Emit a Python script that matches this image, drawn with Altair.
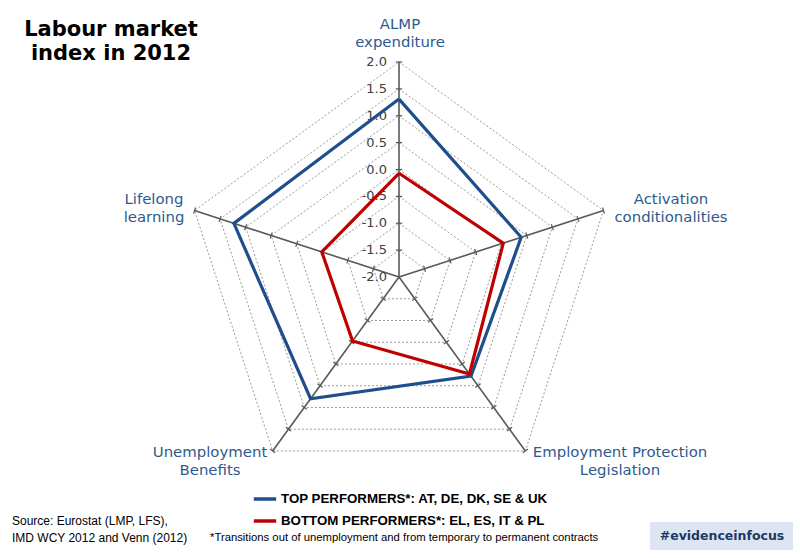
import math
import altair as alt
import pandas as pd

# ---- data ----
categories = ["ALMP expenditure", "Activation conditionalities",
              "Employment Protection Legislation", "Unemployment Benefits",
              "Lifelong learning"]
cat_labels = ["ALMP\nexpenditure", "Activation\nconditionalities",
              "Employment Protection\nLegislation", "Unemployment\nBenefits",
              "Lifelong\nlearning"]
series_names = ["TOP PERFORMERS*: AT, DE, DK, SE & UK",
                "BOTTOM PERFORMERS*: EL, ES, IT & PL"]
top_values = [1.31, 0.39, 0.28, 0.80, 1.23]
bottom_values = [-0.07, 0.04, 0.23, -0.53, -0.49]
tick_values = [-2.0, -1.5, -1.0, -0.5, 0.0, 0.5, 1.0, 1.5, 2.0]
tick_labels = ["-2.0", "-1.5", "-1.0", "-0.5", "0.0", "0.5", "1.0", "1.5", "2.0"]

# ---- geometry helpers (layout only) ----
RMIN = -2.0
PX = 53.75          # pixels per unit
CX, CY = 399, 277   # centre in pixels
W, H = 800, 558
angles = [90 - 72 * i for i in range(len(categories))]

xs = alt.Scale(domain=[-CX / PX, (W - CX) / PX], range=[0, W], zero=False, nice=False)
ys = alt.Scale(domain=[-(H - CY) / PX, CY / PX], range=[H, 0], zero=False, nice=False)

BLUE = "#1f4e8c"
RED = "#c00000"
LABEL = "#2e5a8e"
FONT = "DejaVu Sans"

# series table
rows = []
for name, vals in zip(series_names, [top_values, bottom_values]):
    for k in range(len(categories) + 1):
        i = k % len(categories)
        rows.append({"series": name, "category": categories[i], "value": vals[i],
                     "angle": angles[i], "ord": k})
series_df = pd.DataFrame(rows)

# grid rings (one per tick above the centre)
ring_rows = []
for t in tick_values[1:]:
    for k in range(len(categories) + 1):
        ring_rows.append({"level": t, "angle": angles[k % len(categories)], "ord": k})
ring_df = pd.DataFrame(ring_rows)

spoke_df = pd.DataFrame({"category": categories, "angle": angles})

tick_rows = []
for a in angles:
    for t in tick_values[1:]:
        tick_rows.append({"angle": a, "level": t})
tick_df = pd.DataFrame(tick_rows)

label_df = pd.DataFrame({"value": tick_values, "label": tick_labels})

rad = "datum.angle*PI/180"

def base(df):
    return alt.Chart(df)

rings = base(ring_df).transform_calculate(
    r=f"datum.level-({RMIN})",
    x=f"datum.r*cos({rad})", y=f"datum.r*sin({rad})"
).mark_line(color="#9a9a9a", strokeWidth=1, strokeDash=[2, 2]).encode(
    x=alt.X("x:Q", scale=xs, axis=None),
    y=alt.Y("y:Q", scale=ys, axis=None),
    detail="level:N", order="ord:Q")

spokes = base(spoke_df).transform_calculate(
    r=f"{tick_values[-1]}-({RMIN})",
    x0="0", y0="0",
    x=f"datum.r*cos({rad})", y=f"datum.r*sin({rad})"
).mark_rule(color="#595959", strokeWidth=1.6).encode(
    x=alt.X("x0:Q", scale=xs, axis=None), y=alt.Y("y0:Q", scale=ys, axis=None),
    x2="x:Q", y2="y:Q")

D = 3.2 / PX
ticks = base(tick_df).transform_calculate(
    r=f"datum.level-({RMIN})",
    x1=f"datum.r*cos({rad}) - {D}*sin({rad})",
    y1=f"datum.r*sin({rad}) + {D}*cos({rad})",
    x2=f"datum.r*cos({rad}) + {D}*sin({rad})",
    y2=f"datum.r*sin({rad}) - {D}*cos({rad})",
).mark_rule(color="#595959", strokeWidth=1.2).encode(
    x=alt.X("x1:Q", scale=xs, axis=None), y=alt.Y("y1:Q", scale=ys, axis=None),
    x2="x2:Q", y2="y2:Q")

tlabels = base(label_df).transform_calculate(
    y=f"datum.value-({RMIN})", x=f"{-12 / PX}"
).mark_text(align="right", baseline="middle", font=FONT, fontSize=13,
            color="#404040").encode(
    x=alt.X("x:Q", scale=xs, axis=None), y=alt.Y("y:Q", scale=ys, axis=None),
    text="label:N")

lines = base(series_df).transform_calculate(
    r=f"datum.value-({RMIN})",
    x=f"datum.r*cos({rad})", y=f"datum.r*sin({rad})"
).mark_line(strokeWidth=3.2, strokeJoin="miter").encode(
    x=alt.X("x:Q", scale=xs, axis=None), y=alt.Y("y:Q", scale=ys, axis=None),
    order="ord:Q",
    color=alt.Color("series:N",
                    scale=alt.Scale(domain=series_names, range=[BLUE, RED]),
                    legend=alt.Legend(title=None, orient="none", legendX=252, legendY=486,
                                      direction="vertical", symbolType="stroke",
                                      symbolSize=500, symbolStrokeWidth=3.5,
                                      labelFont="Liberation Sans", labelFontWeight="bold",
                                      labelFontSize=13.3, labelColor="#000000",
                                      labelOffset=3, rowPadding=2, labelLimit=400)))

# category labels (y = first line centre)
cat_pos = pd.DataFrame({
    "label": cat_labels,
    "px": [400, 671, 620, 210, 154],
    "py": [25, 200, 453, 453, 200],
})
cats = alt.Chart(cat_pos).mark_text(font=FONT, fontSize=14.9, color=LABEL,
                                    lineBreak="\n", lineHeight=18,
                                    align="center", baseline="middle").encode(
    x=alt.X("px:Q", scale=None), y=alt.Y("py:Q", scale=None), text="label:N")

title = alt.Chart(pd.DataFrame({"t": ["Labour market\nindex in 2012"]})).mark_text(
    font=FONT, fontSize=21, fontWeight="bold", color="#000000", lineBreak="\n",
    lineHeight=24, align="center", baseline="middle").encode(
    x=alt.value(111), y=alt.value(30), text="t:N")

source = alt.Chart(pd.DataFrame({"t": ["Source:  Eurostat (LMP, LFS),\nIMD WCY 2012  and Venn (2012)"]})).mark_text(
    font="Liberation Sans", fontSize=12, color="#000000", lineBreak="\n",
    lineHeight=17, align="left", baseline="middle").encode(
    x=alt.value(12), y=alt.value(521), text="t:N")

foot = alt.Chart(pd.DataFrame({"t": ["*Transitions out of unemployment and from temporary to permanent contracts"]})).mark_text(
    font="Liberation Sans", fontSize=11.3, color="#000000", align="left",
    baseline="middle").encode(x=alt.value(210), y=alt.value(538), text="t:N")

box = alt.Chart(pd.DataFrame({"a": [0]})).mark_rect(color="#dce6f2").encode(
    x=alt.value(650), x2=alt.value(793), y=alt.value(522), y2=alt.value(550))

tag = alt.Chart(pd.DataFrame({"t": ["#evidenceinfocus"]})).mark_text(
    font=FONT, fontSize=12.5, fontWeight="bold", color="#1f3864",
    align="center", baseline="middle").encode(
    x=alt.value(722), y=alt.value(536), text="t:N")

chart = alt.layer(rings, spokes, ticks, tlabels, lines, cats, title, source, foot,
                  box, tag).properties(
    width=W, height=H, padding=0,
    autosize=alt.AutoSizeParams(type="none"),
    background="#ffffff",
).configure_view(stroke=None)

chart.save("out.html", embed_options={"renderer": "svg", "actions": False})
